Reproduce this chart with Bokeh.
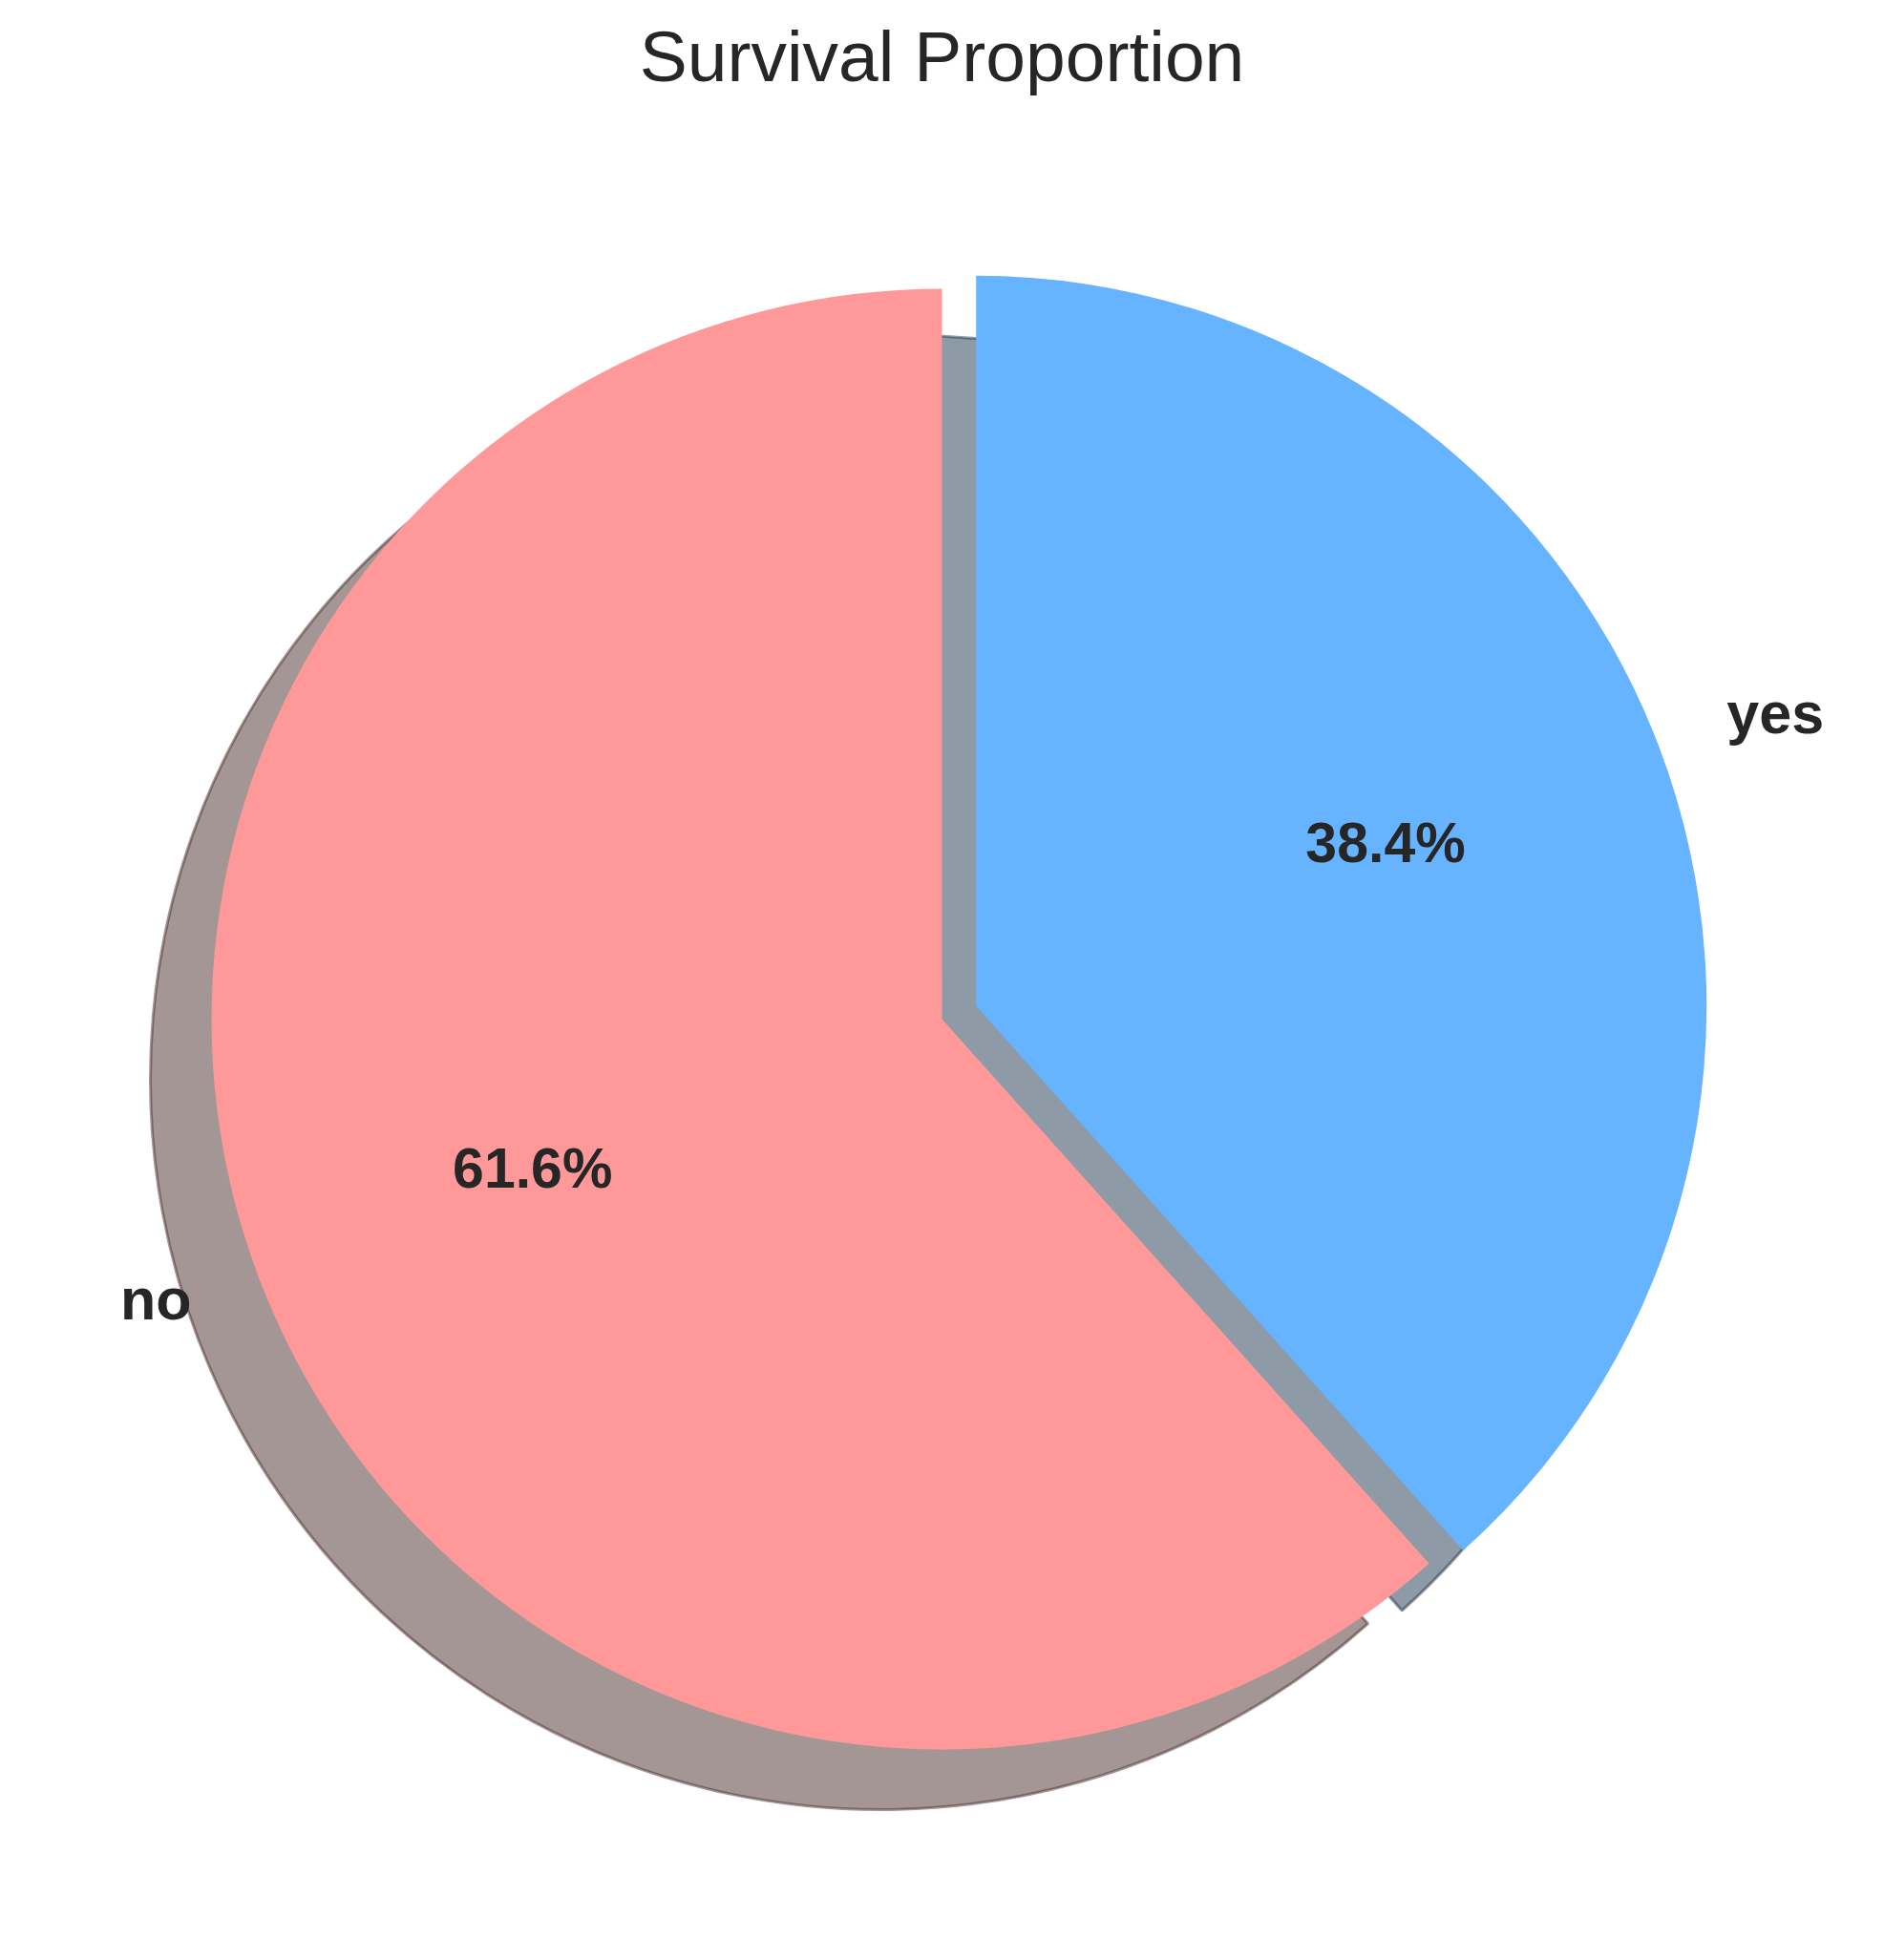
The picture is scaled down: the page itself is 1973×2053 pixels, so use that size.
import math
from bokeh.plotting import figure
from bokeh.models import Range1d, ColumnDataSource
from bokeh.core.properties import value
from bokeh.embed import file_html
from bokeh.resources import INLINE

# ---- data ----
labels = ["no", "yes"]
counts = [549, 342]
colors = ["#ff9999", "#66b3ff"]
explode = [0.0, 0.05]
title_text = "Survival Proportion"

# ---- layout constants (picture pixels; data y = 2053 - picture y) ----
W, H = 1957, 2037
CX, CY = 986.0, 986.0      # pie centre in data coords
R = 765.0                  # radius
SH_DX, SH_DY = -64.0, -63.0  # shadow offset
FONT = "Liberation Sans"
TXT = "#262626"

p = figure(width=W, height=H, x_range=Range1d(0, W), y_range=Range1d(2053 - H, 2053),
           output_backend="svg", toolbar_location=None, min_border=0)
p.axis.visible = False
p.grid.visible = False
p.outline_line_color = None
p.background_fill_color = "white"
p.border_fill_color = "white"


def darken(hexc, f=0.3):
    r, g, b = int(hexc[1:3], 16), int(hexc[3:5], 16), int(hexc[5:7], 16)
    return "#%02x%02x%02x" % (int(r * f), int(g * f), int(b * f))


total = float(sum(counts))
fracs = [c / total for c in counts]
starts, ends, cxs, cys, mids = [], [], [], [], []
theta = math.pi / 2
for f, e in zip(fracs, explode):
    s = theta
    t = theta + f * 2 * math.pi
    m = (s + t) / 2
    starts.append(s)
    ends.append(t)
    mids.append(m)
    cxs.append(CX + e * R * math.cos(m))
    cys.append(CY + e * R * math.sin(m))
    theta = t

src = ColumnDataSource(dict(
    x=cxs, y=cys, sx=[x + SH_DX for x in cxs], sy=[y + SH_DY for y in cys],
    start=starts, end=ends, color=colors, shadow=[darken(c) for c in colors],
))

# shadows
p.wedge(x="sx", y="sy", radius=R, start_angle="start", end_angle="end",
        direction="anticlock", fill_color="shadow", fill_alpha=0.5,
        line_color="shadow", line_alpha=0.5, line_width=3, source=src)
# wedges
p.wedge(x="x", y="y", radius=R, start_angle="start", end_angle="end",
        direction="anticlock", fill_color="color", line_color=None, source=src)

# labels (vertical offset from anchor to drawn baseline)
BASE = -7.0
lx, ly, la = [], [], []
px_, py_, pt = [], [], []
for lab, f, m, x0, y0 in zip(labels, fracs, mids, cxs, cys):
    xx = x0 + 1.1 * R * math.cos(m)
    yy = y0 + 1.1 * R * math.sin(m)
    lx.append(xx)
    ly.append(yy - BASE)
    la.append("right" if math.cos(m) < 0 else "left")
    px_.append(x0 + 0.6 * R * math.cos(m))
    py_.append(y0 + 0.6 * R * math.sin(m) - BASE)
    pt.append("%.1f%%" % (f * 100))

p.text(x=lx, y=ly, text=labels, text_align=la, text_baseline="alphabetic",
       text_font=value(FONT), text_font_style="bold", text_font_size="61px",
       text_color=TXT)
p.text(x=px_, y=py_, text=pt, text_align="center", text_baseline="alphabetic",
       text_font=value(FONT), text_font_style="bold", text_font_size="59px",
       text_color=TXT)

# title
p.text(x=[CX], y=[2053 - 85 + 27], text=[title_text], text_align="center",
       text_baseline="alphabetic", text_font=value(FONT), text_font_size="75px",
       text_color=TXT)

open("out.html", "w").write(file_html(p, INLINE))
